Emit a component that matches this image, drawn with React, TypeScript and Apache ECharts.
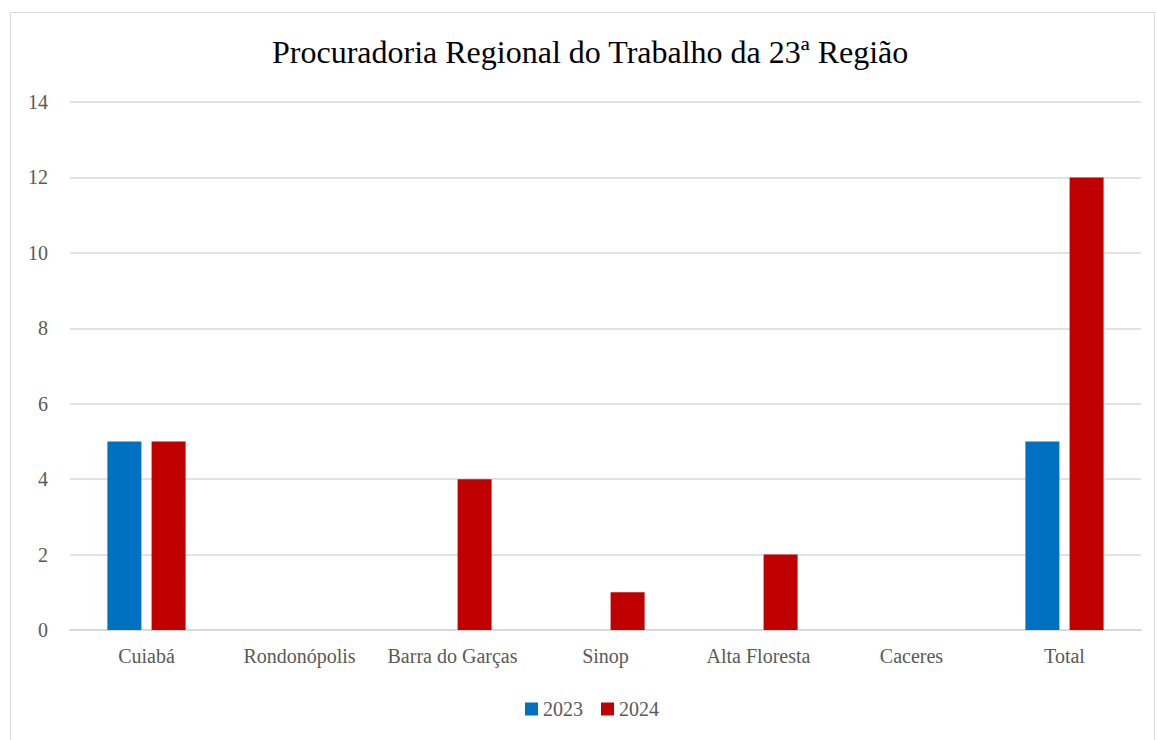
import React, { useEffect, useRef } from "react";
import * as echarts from "echarts";

const categories = ["Cuiabá", "Rondonópolis", "Barra do Garças", "Sinop", "Alta Floresta", "Caceres", "Total"];
const values2023 = [5, 0, 0, 0, 0, 0, 5];
const values2024 = [5, 0, 4, 1, 2, 0, 12];
const seriesNames = ["2023", "2024"];
const titleText = "Procuradoria Regional do Trabalho da 23ª Região";

const FONT = "'Liberation Serif', 'DejaVu Serif', serif";

export default function App() {
  const ref = useRef<HTMLDivElement>(null);
  useEffect(() => {
    if (!ref.current) return;
    const chart = echarts.init(ref.current, undefined, { renderer: "svg" });
    chart.setOption({
      animation: false,
      backgroundColor: "#ffffff",
      title: {
        text: titleText,
        left: 267,
        top: 31,
        textStyle: { fontFamily: FONT, fontSize: 32, fontWeight: "normal", color: "#000000" },
      },
      graphic: [
        {
          type: "rect",
          shape: { x: 10.5, y: 12.5, width: 1144, height: 760 },
          style: { fill: "none", stroke: "#d9d9d9", lineWidth: 1 },
          silent: true,
        },
      ],
      legend: {
        bottom: 16,
        left: 520,
        itemWidth: 13,
        itemHeight: 13,
        itemGap: 18,
        icon: "rect",
        textStyle: { fontFamily: FONT, fontSize: 20, color: "#595959" },
        data: seriesNames,
      },
      grid: { left: 70, right: 16, top: 102, bottom: 110, containLabel: false },
      xAxis: {
        type: "category",
        data: categories,
        axisLine: { lineStyle: { color: "#d9d9d9", width: 2 } },
        axisTick: { show: false },
        axisLabel: { fontFamily: FONT, fontSize: 20, color: "#595959", margin: 16, interval: 0 },
      },
      yAxis: {
        type: "value",
        min: 0,
        max: 14,
        interval: 2,
        axisLine: { show: false },
        axisTick: { show: false },
        splitLine: { lineStyle: { color: "#d9d9d9", width: 1.5 } },
        axisLabel: { fontFamily: FONT, fontSize: 20, color: "#595959", margin: 22 },
      },
      series: [
        {
          name: seriesNames[0],
          type: "bar",
          data: values2023,
          barWidth: 34,
          barGap: "30%",
          itemStyle: { color: "#0070C0" },
        },
        {
          name: seriesNames[1],
          type: "bar",
          data: values2024,
          barWidth: 34,
          barGap: "30%",
          itemStyle: { color: "#C00000" },
        },
      ],
    });
    return () => chart.dispose();
  }, []);
  return (
    <div
      ref={ref}
      style={{ position: "absolute", left: 0, top: 0, width: 1157, height: 740 }}
    />
  );
}
